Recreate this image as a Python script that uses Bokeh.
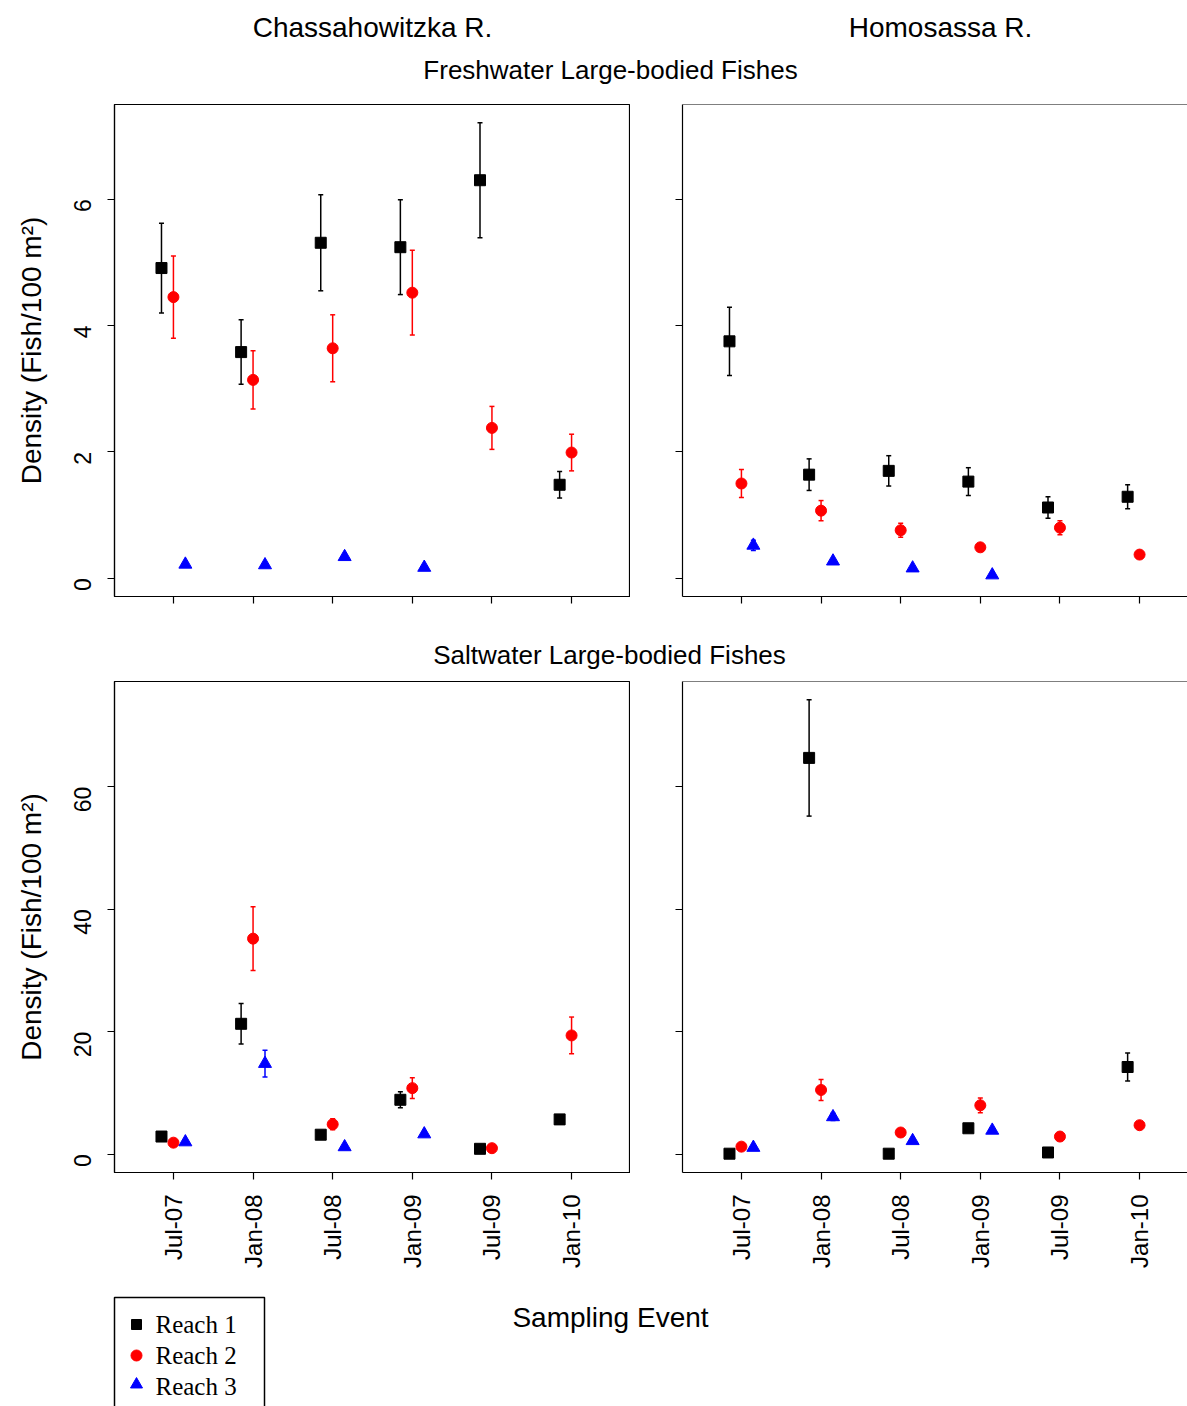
import math
from bokeh.plotting import figure
from bokeh.layouts import column, row
from bokeh.models import (Range1d, FixedTicker, CustomJSTickFormatter, Whisker,
                          TeeHead, ColumnDataSource, Span)
from bokeh.core.properties import value
from bokeh.embed import file_html
from bokeh.resources import INLINE

NAN = float("nan")

# ---- data -------------------------------------------------------------
events = ["Jul-07", "Jan-08", "Jul-08", "Jan-09", "Jul-09", "Jan-10"]
rivers = ["Chassahowitzka R.", "Homosassa R."]
groups = ["Freshwater Large-bodied Fishes", "Saltwater Large-bodied Fishes"]
reach_names = ["Reach 1", "Reach 2", "Reach 3"]

# Freshwater, Chassahowitzka R.  (mean density and standard error)
fw_chas_r1 = [4.91, 3.58, 5.31, 5.24, 6.30, 1.48]
fw_chas_r1_se = [0.71, 0.51, 0.76, 0.75, 0.91, 0.21]
fw_chas_r2 = [4.45, 3.14, 3.64, 4.52, 2.38, 1.99]
fw_chas_r2_se = [0.65, 0.46, 0.53, 0.67, 0.34, 0.29]
fw_chas_r3 = [0.22, 0.21, 0.34, 0.17, NAN, NAN]
fw_chas_r3_se = [0.02, 0.02, 0.03, 0.02, NAN, NAN]

# Freshwater, Homosassa R.
fw_homo_r1 = [3.75, 1.64, 1.70, 1.53, 1.12, 1.29]
fw_homo_r1_se = [0.54, 0.25, 0.24, 0.22, 0.17, 0.19]
fw_homo_r2 = [1.50, 1.07, 0.76, 0.49, 0.80, 0.375]
fw_homo_r2_se = [0.22, 0.16, 0.11, 0.03, 0.11, 0.03]
fw_homo_r3 = [0.52, 0.27, 0.16, 0.05, NAN, NAN]
fw_homo_r3_se = [0.08, 0.03, 0.02, 0.01, NAN, NAN]

# Saltwater, Chassahowitzka R.
sw_chas_r1 = [2.9, 21.3, 3.2, 8.9, 0.9, 5.7]
sw_chas_r1_se = [0.3, 3.3, 0.4, 1.3, 0.2, 0.6]
sw_chas_r2 = [1.9, 35.2, 4.9, 10.8, 1.0, 19.4]
sw_chas_r2_se = [0.3, 5.2, 0.9, 1.7, 0.2, 3.0]
sw_chas_r3 = [2.0, 14.8, 1.2, 3.3, NAN, NAN]
sw_chas_r3_se = [0.3, 2.2, 0.2, 0.4, NAN, NAN]

# Saltwater, Homosassa R.
sw_homo_r1 = [0.1, 64.7, 0.1, 4.25, 0.3, 14.25]
sw_homo_r1_se = [0.05, 9.5, 0.05, 0.4, 0.1, 2.3]
sw_homo_r2 = [1.25, 10.5, 3.56, 8.0, 2.9, 4.75]
sw_homo_r2_se = [0.2, 1.7, 0.3, 1.2, 0.4, 0.4]
sw_homo_r3 = [1.1, 6.1, 2.2, 3.9, NAN, NAN]
sw_homo_r3_se = [0.2, 0.6, 0.3, 0.4, NAN, NAN]

fw_yticks = [0, 2, 4, 6]
sw_yticks = [0, 20, 40, 60]

# ---- styling ----------------------------------------------------------
W = 1187
SANS = "Liberation Sans"
SERIF = "Liberation Serif"
COLORS = ["black", "#ff0000", "#0000ff"]
MARKERS = ["square", "circle", "triangle"]
SIZES = [11, 11, 13]
OFFSETS = [-0.15, 0.0, 0.15]

X_START, X_END = 0.26, 6.74
FRAME_W_L, FRAME_W_R = 516, 505
x_end_right = X_START + (X_END - X_START) * FRAME_W_R / FRAME_W_L


def upper_limit(panels):
    hi = 0.0
    for series in panels:
        for vals, ses in series:
            for v, s in zip(vals, ses):
                if not math.isnan(v):
                    hi = max(hi, v + s)
    return hi


def make_panel(series, y_hi, left_panel, frame_h, bottom_border, x_labels, yticks):
    frame_w = FRAME_W_L if left_panel else FRAME_W_R
    x_end = X_END if left_panel else x_end_right
    p = figure(frame_width=frame_w, frame_height=frame_h,
               x_range=Range1d(X_START, x_end),
               y_range=Range1d(-0.04 * y_hi, 1.04 * y_hi),
               output_backend="svg", toolbar_location=None, tools="",
               min_border_left=114 if left_panel else 52, min_border_right=0,
               min_border_top=0, min_border_bottom=bottom_border, title=None)
    p.grid.visible = False
    p.background_fill_color = "white"
    p.border_fill_color = "white"

    for k, (vals, ses) in enumerate(series):
        xs, ys, lo, up = [], [], [], []
        for i, (v, s) in enumerate(zip(vals, ses)):
            if math.isnan(v):
                continue
            xs.append(i + 1 + OFFSETS[k])
            ys.append(v)
            lo.append(v - s)
            up.append(v + s)
        src = ColumnDataSource(dict(x=xs, y=ys, lower=lo, upper=up))
        w = Whisker(source=src, base="x", upper="upper", lower="lower",
                    dimension="height", line_color=COLORS[k], line_width=1.5,
                    upper_head=TeeHead(size=5, line_color=COLORS[k], line_width=1.5),
                    lower_head=TeeHead(size=5, line_color=COLORS[k], line_width=1.5),
                    level="underlay")
        p.add_layout(w)
        p.scatter("x", "y", source=src, marker=MARKERS[k], size=SIZES[k],
                  fill_color=COLORS[k], line_color=COLORS[k])

    for ax in p.axis:
        ax.axis_line_color = "black"
        ax.axis_line_width = 1.2
        ax.major_tick_line_color = "black"
        ax.major_tick_line_width = 1.2
        ax.major_tick_out = 7
        ax.major_tick_in = 0
        ax.minor_tick_line_color = None
        ax.major_label_text_font = SANS
        ax.major_label_text_color = "black"

    xa = p.xaxis[0]
    xa.ticker = FixedTicker(ticks=list(range(1, len(events) + 1)))
    if x_labels:
        xa.major_label_overrides = {i + 1: e for i, e in enumerate(events)}
        xa.major_label_orientation = math.pi / 2
        xa.major_label_text_font_size = "24px"
        xa.major_label_standoff = 15
    else:
        xa.formatter = CustomJSTickFormatter(code="return ''")
        xa.major_label_text_font_size = "0px"
        xa.major_label_standoff = 0

    ya = p.yaxis[0]
    ya.ticker = FixedTicker(ticks=yticks)
    if left_panel:
        ya.major_label_orientation = math.pi / 2
        ya.major_label_text_font_size = "23px"
        ya.major_label_standoff = 25
        ya.axis_label = "Density (Fish/100 m\u00b2)"
        ya.axis_label_text_font = SANS
        ya.axis_label_text_font_size = "28px"
        ya.axis_label_text_font_style = "normal"
        ya.axis_label_text_color = "black"
        ya.axis_label_standoff = 16
        p.outline_line_color = "black"
        p.outline_line_width = 1.2
    else:
        ya.formatter = CustomJSTickFormatter(code="return ''")
        ya.major_label_text_font_size = "0px"
        ya.major_label_standoff = 0
        p.outline_line_color = None
        p.add_layout(Span(location=1.04 * y_hi, dimension="width",
                          line_color="black", line_width=1.2))
    return p


def text_strip(height, y_top):
    p = figure(width=W, height=height, x_range=Range1d(0, W),
               y_range=Range1d(y_top + height, y_top),
               output_backend="svg", toolbar_location=None, tools="",
               min_border=0, title=None, x_axis_location=None, y_axis_location=None)
    p.grid.visible = False
    p.outline_line_color = None
    return p


def put_text(p, x, y, txt, size, font=SANS, align="center", baseline="alphabetic"):
    p.text(x=[x], y=[y], text=[txt], text_font=value(font), text_font_size=size,
           text_align=align, text_baseline=baseline, text_color="black")


fw_series = [
    [(fw_chas_r1, fw_chas_r1_se), (fw_chas_r2, fw_chas_r2_se), (fw_chas_r3, fw_chas_r3_se)],
    [(fw_homo_r1, fw_homo_r1_se), (fw_homo_r2, fw_homo_r2_se), (fw_homo_r3, fw_homo_r3_se)],
]
sw_series = [
    [(sw_chas_r1, sw_chas_r1_se), (sw_chas_r2, sw_chas_r2_se), (sw_chas_r3, sw_chas_r3_se)],
    [(sw_homo_r1, sw_homo_r1_se), (sw_homo_r2, sw_homo_r2_se), (sw_homo_r3, sw_homo_r3_se)],
]
fw_hi = upper_limit(fw_series)
sw_hi = upper_limit(sw_series)

# header: river names and first group title
header = text_strip(104, 0)
put_text(header, 372, 27, rivers[0], "28px")
put_text(header, 940, 27, rivers[1], "28px")
put_text(header, 610, 69, groups[0], "26px")

fw_left = make_panel(fw_series[0], fw_hi, True, 492, 40, False, fw_yticks)
fw_right = make_panel(fw_series[1], fw_hi, False, 492, 40, False, fw_yticks)

middle = text_strip(45, 636)
put_text(middle, 609, 654, groups[1], "26px")

sw_left = make_panel(sw_series[0], sw_hi, True, 491, 118, True, sw_yticks)
sw_right = make_panel(sw_series[1], sw_hi, False, 491, 118, True, sw_yticks)

# footer: x-axis title and legend
footer = text_strip(116, 1290)
put_text(footer, 610, 1317, "Sampling Event", "28px")
footer.line(x=[114, 114, 264, 264], y=[1430, 1297, 1297, 1430],
            line_color="black", line_width=1.5)
leg_y = [1324, 1355, 1386]
leg_marker_y = [1324, 1355, 1384]
leg_sizes = [10, 11, 12]
for k in range(3):
    footer.scatter(x=[136], y=[leg_marker_y[k]], marker=MARKERS[k], size=leg_sizes[k],
                   fill_color=COLORS[k], line_color=COLORS[k])
    put_text(footer, 155, leg_y[k], reach_names[k], "25px", font=SERIF,
             align="left", baseline="middle")

layout = column(header, row(fw_left, fw_right), middle, row(sw_left, sw_right), footer)

with open("out.html", "w") as f:
    f.write(file_html(layout, INLINE))
